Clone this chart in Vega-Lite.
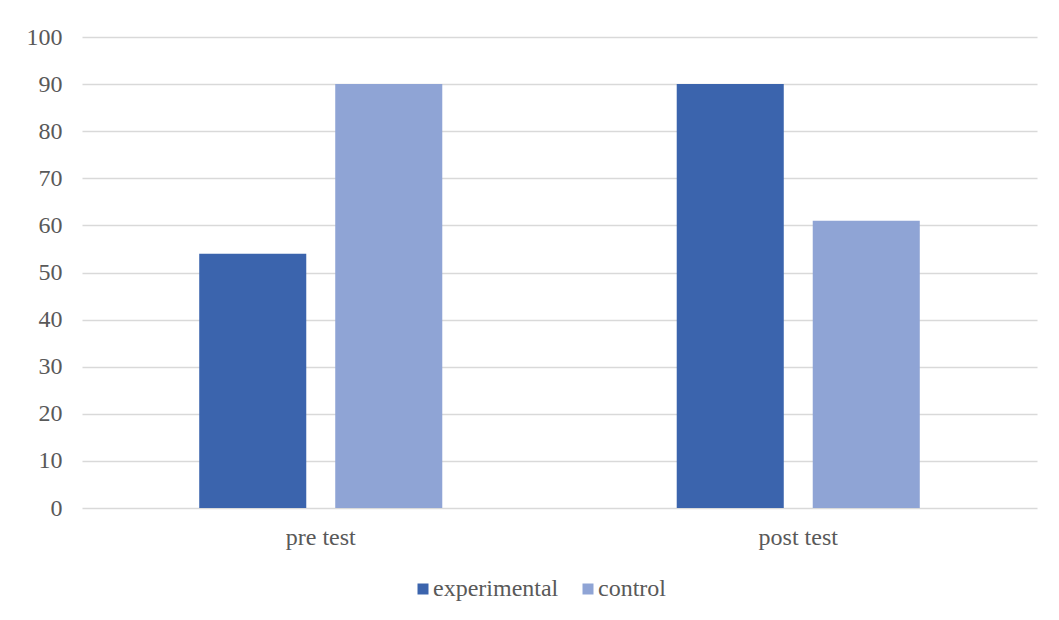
{
  "$schema": "https://vega.github.io/schema/vega-lite/v6.json",
  "autosize": "none",
  "width": 955,
  "height": 471,
  "padding": {"left": 82, "top": 37, "right": 22, "bottom": 112},
  "background": "white",
  "data": {
    "values": [
      {"phase": "pre test", "group": "experimental", "score": 54},
      {"phase": "pre test", "group": "control", "score": 90},
      {"phase": "post test", "group": "experimental", "score": 90},
      {"phase": "post test", "group": "control", "score": 61}
    ]
  },
  "mark": {"type": "bar"},
  "encoding": {
    "x": {
      "field": "phase",
      "type": "nominal",
      "sort": ["pre test", "post test"],
      "scale": {"paddingInner": 0.491, "paddingOuter": 0.2455},
      "axis": {
        "title": null,
        "labelAngle": 0,
        "domain": false,
        "ticks": false,
        "labelPadding": 17
      }
    },
    "xOffset": {
      "field": "group",
      "sort": ["experimental", "control"],
      "scale": {"paddingInner": 0.213, "paddingOuter": 0}
    },
    "y": {
      "field": "score",
      "type": "quantitative",
      "scale": {"domain": [0, 100], "nice": false},
      "axis": {
        "title": null,
        "values": [0, 10, 20, 30, 40, 50, 60, 70, 80, 90, 100],
        "domain": false,
        "ticks": false,
        "labelPadding": 20,
        "gridColor": "#d9d9d9",
        "gridWidth": 1.5
      }
    },
    "color": {
      "field": "group",
      "type": "nominal",
      "sort": ["experimental", "control"],
      "scale": {"domain": ["experimental", "control"], "range": ["#3b64ad", "#8fa4d5"]},
      "legend": {
        "title": null,
        "orient": "none",
        "direction": "horizontal",
        "legendX": 329,
        "legendY": 540,
        "symbolType": "square",
        "symbolSize": 121,
        "symbolStrokeWidth": 0,
        "labelOffset": -2,
        "columnPadding": 17
      }
    }
  },
  "config": {
    "view": {"stroke": null},
    "font": "Liberation Serif",
    "axis": {"labelFont": "Liberation Serif", "labelFontSize": 24, "labelColor": "#595959"},
    "legend": {"labelFont": "Liberation Serif", "labelFontSize": 24, "labelColor": "#595959"}
  }
}
